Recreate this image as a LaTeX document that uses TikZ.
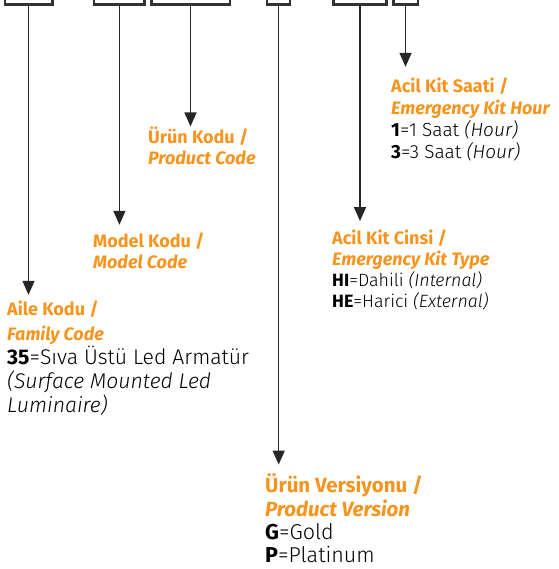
\documentclass[tikz,border=0pt]{standalone}
\usepackage{fontspec}
\setmainfont{Fira Sans}[UprightFont=* Light, ItalicFont=* Light Italic, BoldFont=* Bold, BoldItalicFont=* Bold Italic]
\usetikzlibrary{arrows.meta}
\definecolor{kodorange}{RGB}{247,148,29}
% heading in orange, body text keeps the node font
\newcommand{\hd}[2][18]{{\fontsize{#1}{\baselineskip}\selectfont\color{kodorange}\bfseries #2}}

\begin{document}
\begin{tikzpicture}[x=1pt,y=-1pt,
    box/.style={draw=black!80, line width=2.5pt, inner sep=0pt, minimum height=20pt, anchor=south},
    arr/.style={draw=black!85, line width=1.4pt, -{Triangle[width=12pt,length=14pt]}},
    lbl/.style={anchor=base west, align=left, inner sep=0pt}]
  \clip (0,0) rectangle (558,569);

  % code boxes
  \node[box, minimum width=47.5pt] (fam) at (28.5,5.75) {};
  \node[box, minimum width=50.5pt] (mdl) at (119.4,5.75) {};
  \node[box, minimum width=78.5pt] (kod) at (190.5,5.75) {};
  \node[box, minimum width=23pt]   (ver) at (278.7,5.75) {};
  \node[box, minimum width=53pt]   (tip) at (360,5.75) {};
  \node[box, minimum width=24.5pt] (hr)  at (405.5,5.75) {};

  % labels (placed at the baseline of their last line)
  \node[lbl, font=\fontsize{21.2}{24.3}\selectfont] (famlbl) at (7,412.9)
    {\hd{Aile Kodu /}\\\hd{\itshape Family Code}\\{\bfseries 35}=Sıva Üstü Led Armatür\\
     \itshape(Surface Mounted Led\\\itshape Luminaire)};
  \node[lbl, font=\fontsize{18.5}{20.5}\selectfont] (mdllbl) at (93,268.2)
    {\hd{Model Kodu /}\\\hd{\itshape Model Code}};
  \node[lbl, font=\fontsize{18.5}{21}\selectfont] (kodlbl) at (148,164.3)
    {\hd{Ürün Kodu /}\\\hd{\itshape Product Code}};
  \node[lbl, font=\fontsize{21.5}{23.4}\selectfont] (verlbl) at (265,562.9)
    {\hd[20.5]{Ürün Versiyonu /}\\\hd[20.5]{\itshape Product Version}\\{\bfseries G}=Gold\\{\bfseries P}=Platinum};
  \node[lbl, font=\fontsize{17.8}{21.3}\selectfont] (tiplbl) at (332,307.9)
    {\hd{Acil Kit Cinsi /}\\\hd{\itshape Emergency Kit Type}\\{\bfseries HI}=Dahili {\itshape(Internal)}\\
     {\bfseries HE}=Harici {\itshape(External)}};
  \node[lbl, font=\fontsize{19}{21.8}\selectfont] (hrlbl) at (391,158.1)
    {\hd{Acil Kit Saati /}\\\hd{\itshape Emergency Kit Hour}\\{\bfseries 1}=1 Saat {\itshape(Hour)}\\
     {\bfseries 3}=3 Saat {\itshape(Hour)}};

  % arrows
  \draw[arr, shorten >=6pt]  (fam.south) -- (fam.south |- famlbl.north);
  \draw[arr, shorten >=8pt]  (mdl.south) -- (mdl.south |- mdllbl.north);
  \draw[arr]                 (kod.south) -- (kod.south |- kodlbl.north);
  \draw[arr, shorten >=9pt]  (ver.south) -- (ver.south |- verlbl.north);
  \draw[arr, shorten >=8pt]  (tip.south) -- (tip.south |- tiplbl.north);
  \draw[arr, shorten >=11pt] (hr.south)  -- (hr.south |- hrlbl.north);
\end{tikzpicture}
\end{document}
